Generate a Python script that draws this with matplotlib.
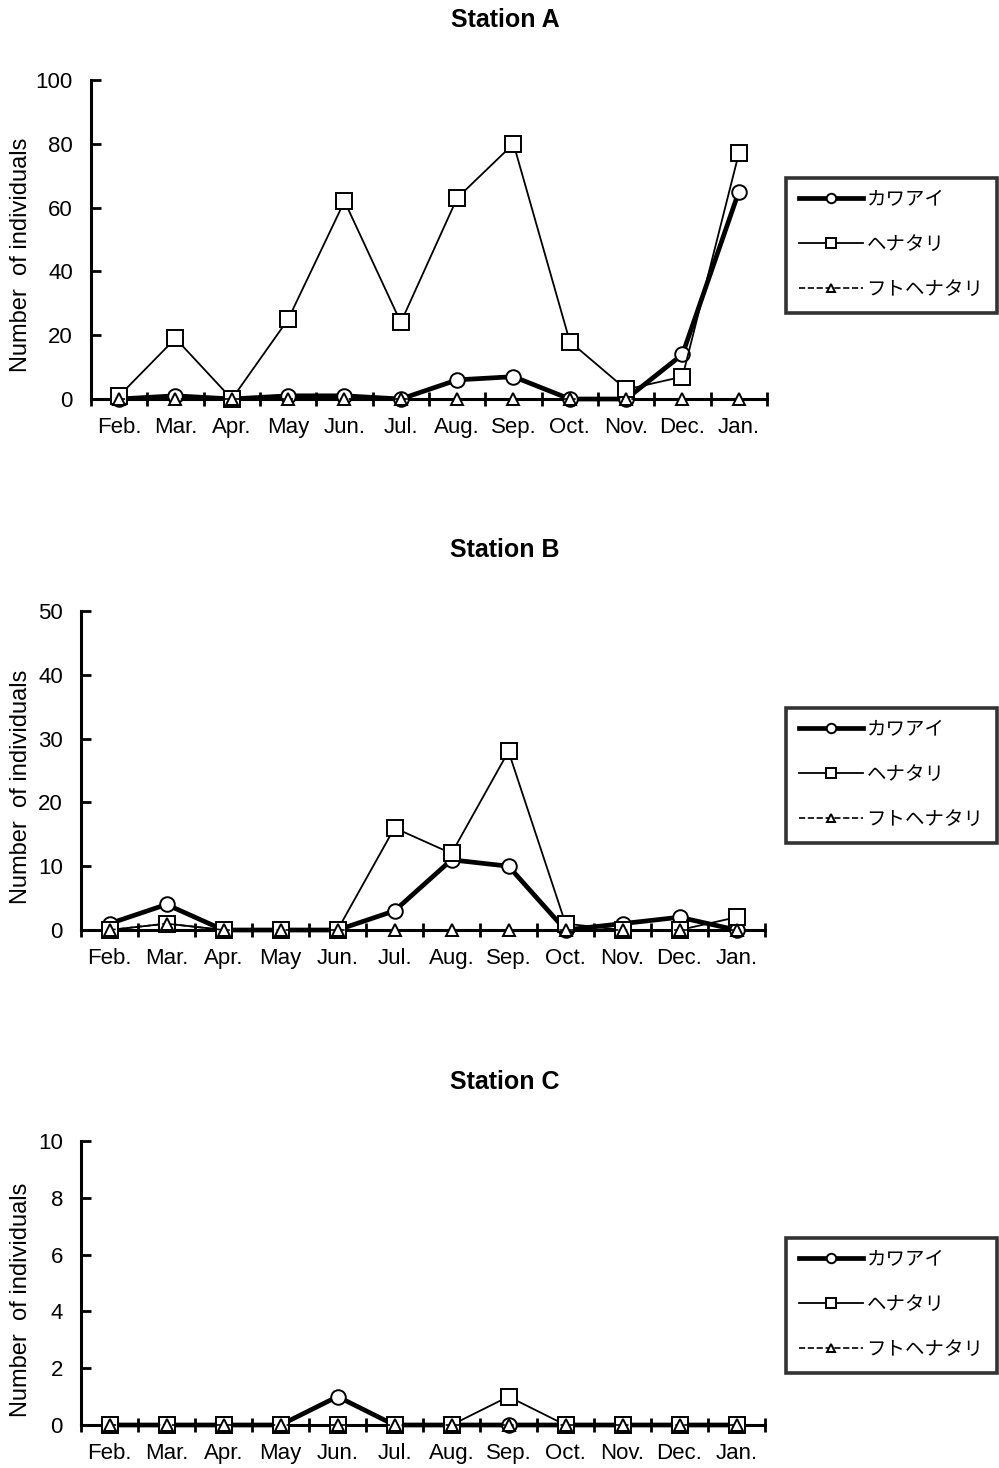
import numpy as np
import matplotlib.pyplot as plt
from matplotlib.ticker import MultipleLocator, FixedLocator

plt.rcParams['font.family'] = ['Liberation Sans', 'Noto Sans CJK JP', 'DejaVu Sans']

months = ["Feb.", "Mar.", "Apr.", "May", "Jun.", "Jul.",
          "Aug.", "Sep.", "Oct.", "Nov.", "Dec.", "Jan."]
species = ["カワアイ", "ヘナタリ", "フトヘナタリ"]

# Station A
a_kawaai = [0, 1, 0, 1, 1, 0, 6, 7, 0, 0, 14, 65]
a_henatari = [1, 19, 0, 25, 62, 24, 63, 80, 18, 3, 7, 77]
a_futo = [0, 0, 0, 0, 0, 0, 0, 0, 0, 0, 0, 0]

# Station B
b_kawaai = [1, 4, 0, 0, 0, 3, 11, 10, 0, 1, 2, 0]
b_henatari = [0, 1, 0, 0, 0, 16, 12, 28, 1, 0, 0, 2]
b_futo = [0, 1, 0, 0, 0, 0, 0, 0, 0, 0, 0, 0]

# Station C
c_kawaai = [0, 0, 0, 0, 1, 0, 0, 0, 0, 0, 0, 0]
c_henatari = [0, 0, 0, 0, 0, 0, 0, 1, 0, 0, 0, 0]
c_futo = [0, 0, 0, 0, 0, 0, 0, 0, 0, 0, 0, 0]

stations = [
    ("Station A", (a_kawaai, a_henatari, a_futo), 100, 20),
    ("Station B", (b_kawaai, b_henatari, b_futo), 50, 10),
    ("Station C", (c_kawaai, c_henatari, c_futo), 10, 2),
]

W, H = 999, 1468
fig = plt.figure(figsize=(W / 100, H / 100), dpi=100)

# pixel boxes: left, right, top, bottom
boxes = [(91, 767, 80, 399), (81, 765, 611, 930), (81, 765, 1141, 1425)]
title_y = [20, 550, 1082]
ylab_y = [255, 787, 1300]
legend_top = [178, 708, 1238]

styles = [
    dict(marker="o", lw=3.4, ls="-", ms=10.5),
    dict(marker="s", lw=1.3, ls="-", ms=11),
    dict(marker="^", lw=1.2, ls="--", ms=9),
]

x = np.arange(len(months))
for i, (name, series, ymax, step) in enumerate(stations):
    l, r, t, b = boxes[i]
    ax = fig.add_axes([l / W, 1 - b / H, (r - l) / W, (b - t) / H])
    handles = []
    for j, vals in enumerate(series):
        st = styles[j]
        h, = ax.plot(x, vals, color="black", lw=st["lw"], ls=st["ls"],
                     marker=st["marker"], ms=st["ms"], mfc="white",
                     mec="black", mew=1.4, clip_on=False, zorder=3 + j,
                     label=species[j])
        handles.append(h)
    ax.set_xlim(-0.5, len(months) - 0.5)
    ax.set_ylim(0, ymax)
    ax.yaxis.set_major_locator(MultipleLocator(step))
    ax.set_xticks(x)
    ax.set_xticklabels(months, fontsize=16)
    ax.xaxis.set_minor_locator(FixedLocator(np.arange(-0.5, len(months), 1.0)))
    ax.tick_params(axis="x", which="major", length=0, pad=13)
    ax.tick_params(axis="x", which="minor", direction="inout", length=10, width=2)
    ax.tick_params(axis="y", direction="in", length=7, width=2, labelsize=16, pad=13)
    for s in ["top", "right"]:
        ax.spines[s].set_visible(False)
    for s in ["left", "bottom"]:
        ax.spines[s].set_linewidth(2.2)
    ax.patch.set_alpha(0)

    fig.text(505 / W, 1 - title_y[i] / H, name, ha="center", va="center",
             fontsize=18, fontweight="bold")
    fig.text(21 / W, 1 - ylab_y[i] / H, "Number  of individuals",
             rotation=90, ha="center", va="center", fontsize=17)

    leg = fig.legend(handles=handles, loc="upper right",
                     bbox_to_anchor=(997 / W, 1 - legend_top[i] / H),
                     borderaxespad=0, fancybox=False, frameon=True,
                     edgecolor="black", fontsize=14, handlelength=3.3,
                     labelspacing=1.4, handletextpad=0.15, borderpad=0.7,
                     numpoints=1, markerscale=0.65)
    leg.get_frame().set_linewidth(2.6)

fig.savefig("out.png", dpi=100)
